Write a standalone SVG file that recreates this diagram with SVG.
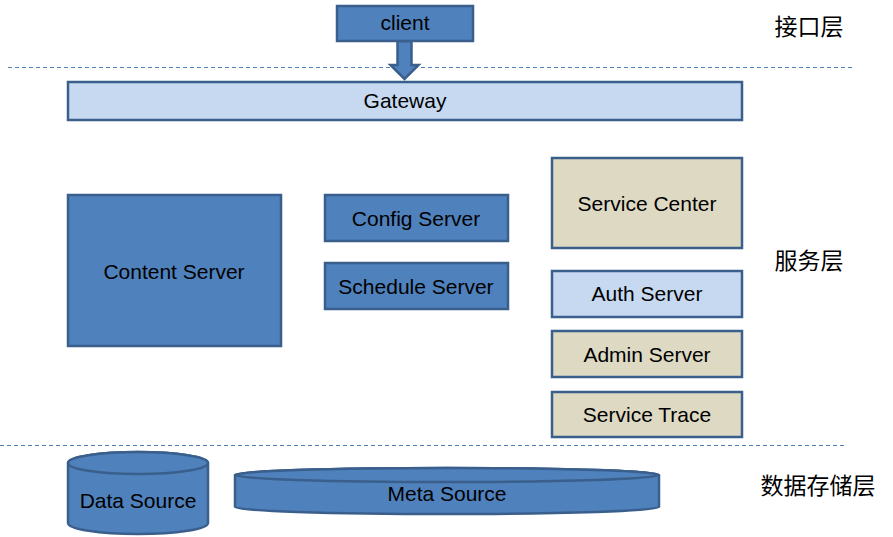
<svg xmlns="http://www.w3.org/2000/svg" width="893" height="537" viewBox="0 0 893 537">
<style>
.blue{fill:#4F81BD;stroke:#3A5F8C;stroke-width:2.5}
.light{fill:#C6D9F1;stroke:#3A5F8C;stroke-width:2.5}
.tan{fill:#DDD9C3;stroke:#3A5F8C;stroke-width:2.5}
.t{font-family:"Liberation Sans",Arial,sans-serif;font-size:21px;fill:#000;text-anchor:middle;dominant-baseline:central}
.cn{font-family:"Noto Sans CJK SC",sans-serif;font-size:23px;fill:#000;text-anchor:middle;dominant-baseline:central}
.dash{stroke:#4F81BD;stroke-width:1;stroke-dasharray:4 3;fill:none}
</style>
<rect width="893" height="537" fill="#fff"/>
<g id="layers">
<line class="dash" x1="8" y1="67.5" x2="853" y2="67.5"/>
<line class="dash" x1="0" y1="445.5" x2="845" y2="445.5"/>
<text class="cn" x="809" y="25">接口层</text>
<text class="cn" x="809" y="259">服务层</text>
<text class="cn" x="818" y="484">数据存储层</text>
</g>
<g id="connectors">
<path class="blue" d="M397.5,41 L411.5,41 L411.5,65 L418.5,65 L404.5,79 L390.5,65 L397.5,65 Z"/>
</g>
<g id="client"><rect class="blue" x="337" y="6" width="136" height="35"/><text class="t" x="405" y="22">client</text></g>
<g id="gateway"><rect class="light" x="68" y="82" width="674" height="38"/><text class="t" x="405" y="100">Gateway</text></g>
<g id="content-server"><rect class="blue" x="68" y="195" width="213" height="151"/><text class="t" x="174" y="271">Content Server</text></g>
<g id="config-server"><rect class="blue" x="325" y="195" width="183" height="46"/><text class="t" x="416" y="218">Config Server</text></g>
<g id="schedule-server"><rect class="blue" x="325" y="263" width="183" height="46"/><text class="t" x="416" y="286">Schedule Server</text></g>
<g id="service-center"><rect class="tan" x="552" y="158" width="190" height="90"/><text class="t" x="647" y="203">Service Center</text></g>
<g id="auth-server"><rect class="light" x="552" y="271" width="190" height="46"/><text class="t" x="647" y="293">Auth Server</text></g>
<g id="admin-server"><rect class="tan" x="552" y="331" width="190" height="46"/><text class="t" x="647" y="354">Admin Server</text></g>
<g id="service-trace"><rect class="tan" x="552" y="392" width="190" height="45"/><text class="t" x="647" y="414">Service Trace</text></g>
<g id="data-source">
<path class="blue" d="M68,463 L68,523 A70,11 0 0 0 208,523 L208,463 A70,11 0 0 0 68,463 Z"/>
<ellipse class="blue" cx="138" cy="463" rx="70" ry="11"/>
<text class="t" x="138" y="500">Data Source</text>
</g>
<g id="meta-source">
<path class="blue" d="M235,475 L235,507 A212,7 0 0 0 659,507 L659,475 A212,7 0 0 0 235,475 Z"/>
<ellipse class="blue" cx="447" cy="475" rx="212" ry="7"/>
<text class="t" x="447" y="493">Meta Source</text>
</g>
</svg>
